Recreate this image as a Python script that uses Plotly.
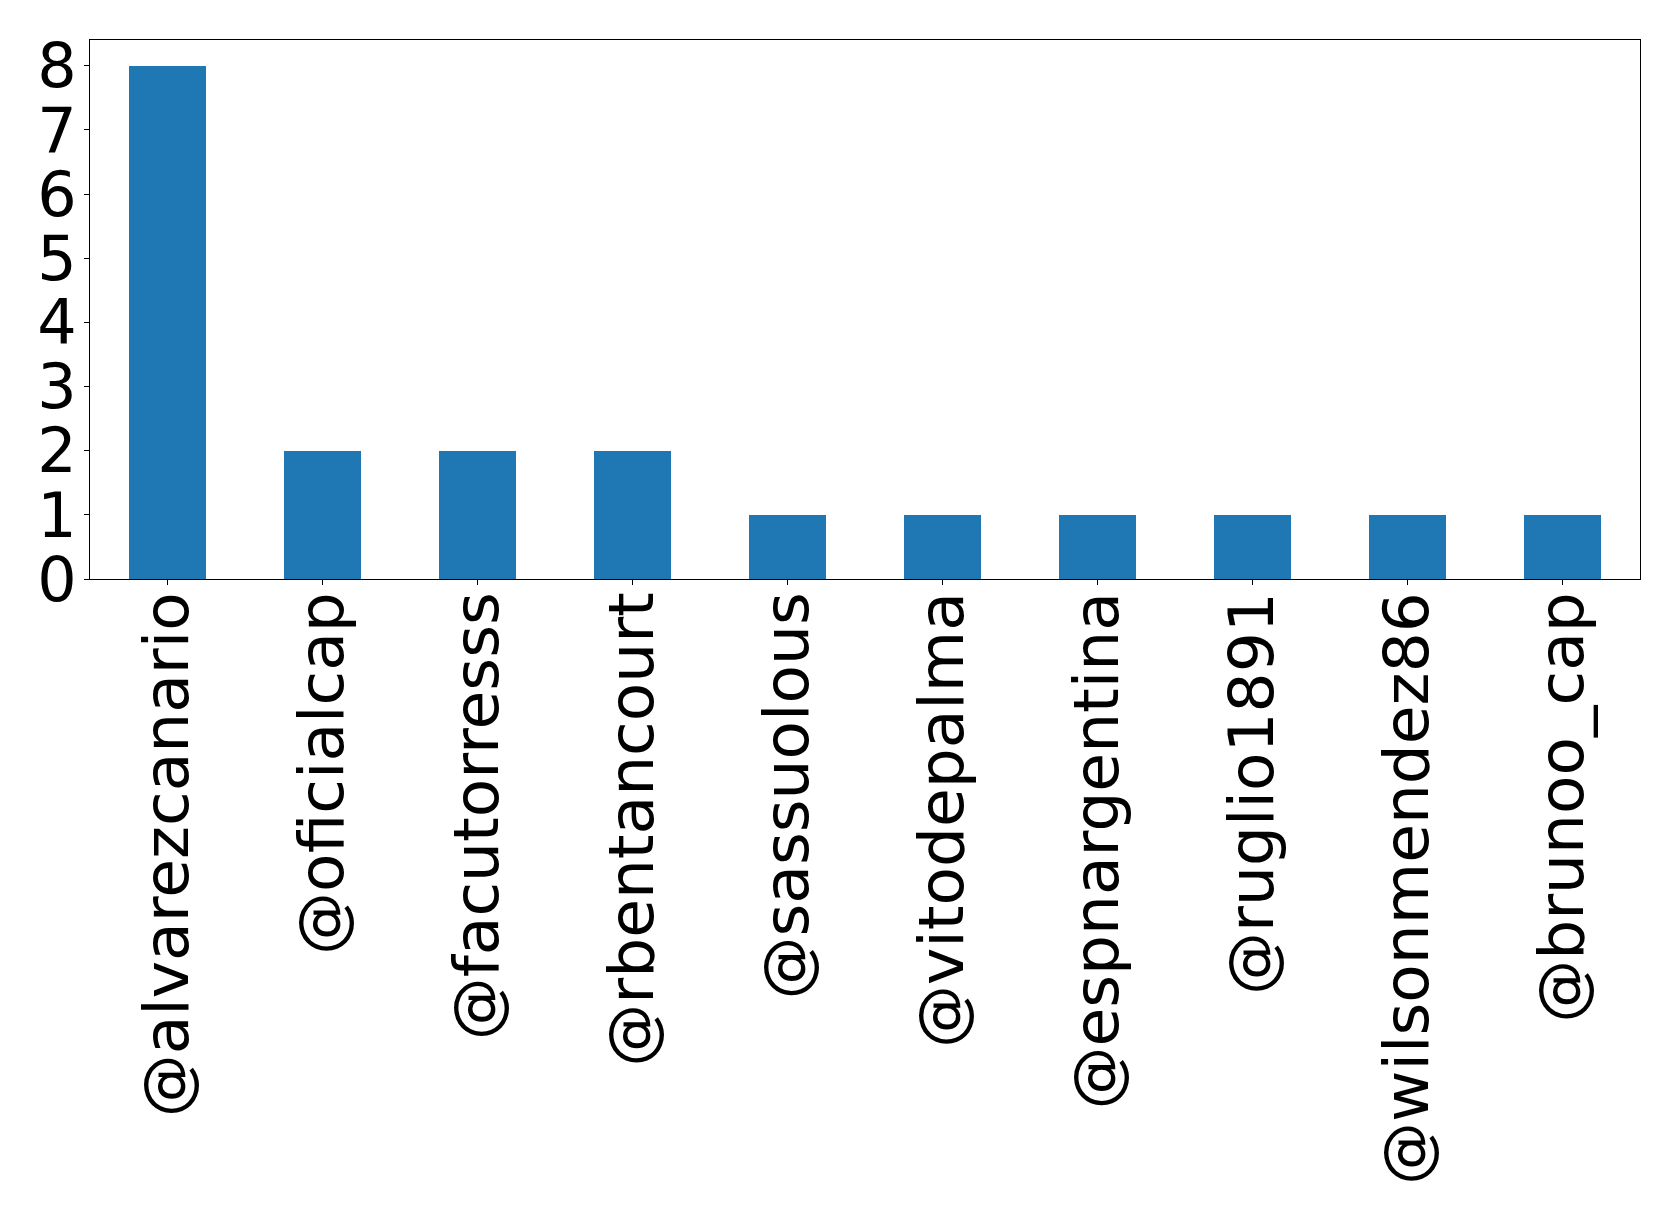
import plotly.graph_objects as go

categories = ["@alvarezcanario", "@oficialcap", "@facutorresss", "@rbentancourt",
              "@sassuolous", "@vitodepalma", "@espnargentina", "@ruglio1891",
              "@wilsonmendez86", "@brunoo_cap"]
values = [8, 2, 2, 2, 1, 1, 1, 1, 1, 1]
ytick_vals = [0, 1, 2, 3, 4, 5, 6, 7, 8]

yfont = dict(family="DejaVu Sans", size=62, color="black")
xfont = dict(family="DejaVu Sans", size=63, color="black")

fig = go.Figure(go.Bar(x=categories, y=values, width=0.5, marker=dict(color="#1f77b4", line=dict(width=0))))

fig.update_layout(
    width=1671, height=1208,
    margin=dict(l=82, r=39, t=32, b=637, autoexpand=False),
    paper_bgcolor="white", plot_bgcolor="white",
    showlegend=False,
    bargap=0,
)
fig.update_xaxes(
    range=[-0.5, 9.5], tickangle=-90, tickfont=xfont,
    showline=True, linecolor="black", linewidth=1, mirror=True,
    ticks="outside", ticklen=5, tickwidth=1, tickcolor="black",
    ticklabelstandoff=-18,
    showgrid=False, zeroline=False, automargin=False,
)
fig.update_yaxes(
    range=[0, 8.4], tickvals=ytick_vals, tickfont=yfont,
    showline=True, linecolor="black", linewidth=1, mirror=True,
    ticks="outside", ticklen=5, tickwidth=1, tickcolor="black",
    ticklabelstandoff=-5,
    showgrid=False, zeroline=False, automargin=False,
)

fig.write_html("out.html")
